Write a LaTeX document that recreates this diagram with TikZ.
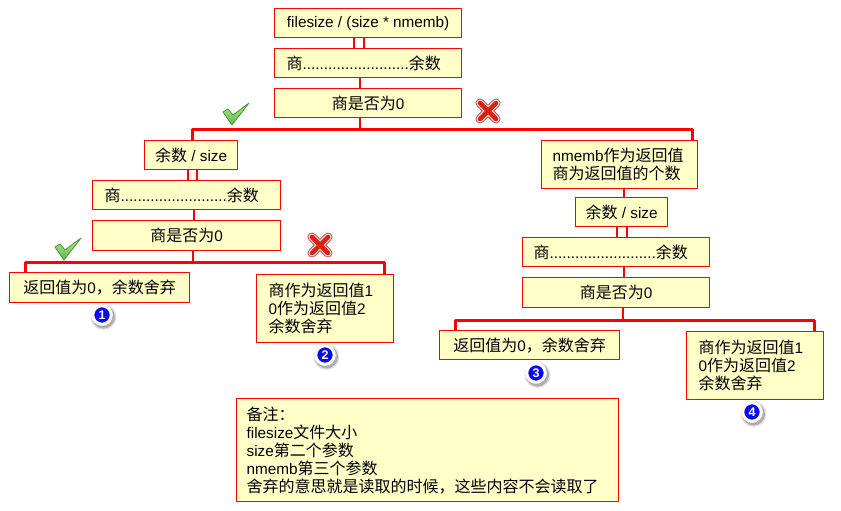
\documentclass[tikz,border=0pt]{standalone}
\usepackage{fontspec}
\setmainfont{Liberation Sans}
\newfontfamily\cjk[Scale=1.046]{Noto Sans CJK SC}
\newcommand{\zh}[1]{{\cjk #1}}
\definecolor{boxfill}{HTML}{FFFFC8}
\definecolor{numblue}{HTML}{0A0AF0}
\definecolor{tickdark}{HTML}{4F9A42}
\definecolor{tickhi}{HTML}{B4EC8C}
\definecolor{ticklo}{HTML}{5DB84A}
\definecolor{crossrim}{HTML}{B85858}
\definecolor{crosshalo}{HTML}{F8E4E4}
\definecolor{crosscore}{HTML}{DD2010}
\tikzset{
  box/.style={draw=red,line width=1.3pt,fill=boxfill,inner sep=0pt,anchor=north west,font=\fontsize{15.3}{18}\selectfont,text=black},
  lbox/.style 2 args={box,align=left,minimum width=#1 pt,text width=#1pt-2*#2pt,inner xsep=#2pt},
  conn/.style={draw=red,line width=2.5pt},
  bus/.style={draw=red,line width=3pt,line join=round},
  numdot/.style={circle,fill=numblue,draw=white,line width=3pt,minimum size=18.5pt,inner sep=0pt,text=white,font=\bfseries\fontsize{12.5}{12.5}\selectfont},
  tick/.pic={
    \fill[top color=tickhi,bottom color=ticklo,draw=tickdark,line width=.8pt,line join=round]
      (-13,-1) -- (-8,-4) -- (-3,2) -- (13,-10) -- (-4,12) -- cycle;
  },
  cross/.pic={
    \draw[draw=crossrim,line width=9pt,line cap=round] (-8,-8) -- (8,8) (-8,8) -- (8,-8);
    \draw[draw=crosshalo,line width=7pt,line cap=round] (-8,-8) -- (8,8) (-8,8) -- (8,-8);
    \draw[draw=crosscore,line width=4.6pt,line cap=round] (-8,-8) -- (8,8) (-8,8) -- (8,-8);
  },
}
\newcommand{\quot}{\zh{商}.........................\zh{余数}}
\begin{document}
\begin{tikzpicture}[x=1pt,y=-1pt]
\useasboundingbox (0,0) rectangle (841,511);
\fill[white] (0,0) rectangle (841,511);

\coordinate (j1) at (360,129);
\coordinate (j2) at (193,262);
\coordinate (j3) at (623,320);

% connectors
\draw[conn] (354,37) -- (354,48);
\draw[conn] (364,37) -- (364,48);
\draw[conn] (360,77) -- (360,88);
\draw[conn] (360,117) -- (j1);
\draw[bus] (192,140) |- (j1) -| (692,140);
\draw[conn] (188,169) -- (188,180);
\draw[conn] (197,169) -- (197,180);
\draw[conn] (194,209) -- (194,220);
\draw[conn] (193,250) -- (j2);
\draw[bus] (25,272) |- (j2) -| (384,274);
\draw[conn] (624,188) -- (624,197);
\draw[conn] (617,226) -- (617,237);
\draw[conn] (627,226) -- (627,237);
\draw[conn] (624,266) -- (624,277);
\draw[conn] (623,307) -- (j3);
\draw[bus] (455,330) |- (j3) -| (814,331);

% boxes
\node[box,minimum width=187pt,minimum height=29pt] (a) at (274,8) {filesize / (size * nmemb)};
\node[lbox={187}{12},minimum height=29pt] (b) at (274,48) {\quot};
\node[box,minimum width=187pt,minimum height=29pt] (c) at (274,88) {\zh{商是否为}0};
\node[box,minimum width=93pt,minimum height=29pt] (d) at (144,140) {\zh{余数} / size};
\node[lbox={188}{12},minimum height=29pt] (e) at (92,180) {\quot};
\node[box,minimum width=188pt,minimum height=30pt] (f) at (92,220) {\zh{商是否为}0};
\node[box,minimum width=180pt,minimum height=30pt] (g) at (9,272) {\zh{返回值为}0\zh{，余数舍弃}};
\node[lbox={137}{12},minimum height=68pt] (h) at (256,274) {\zh{商作为返回值}1\\0\zh{作为返回值}2\\\zh{余数舍弃}};
\node[lbox={156}{11},minimum height=48pt] (i) at (541,140) {nmemb\zh{作为返回值}\\\zh{商为返回值的个数}};
\node[box,minimum width=92pt,minimum height=29pt] (k) at (575,197) {\zh{余数} / size};
\node[lbox={187}{11},minimum height=29pt] (l) at (522,237) {\quot};
\node[box,minimum width=187pt,minimum height=30pt] (m) at (522,277) {\zh{商是否为}0};
\node[box,minimum width=180pt,minimum height=29pt] (n) at (439,330) {\zh{返回值为}0\zh{，余数舍弃}};
\node[lbox={137}{12},minimum height=68pt] (o) at (686,331) {\zh{商作为返回值}1\\0\zh{作为返回值}2\\\zh{余数舍弃}};
\node[lbox={382}{10},minimum height=103pt] (p) at (236,398) {\zh{备注：}\\filesize\zh{文件大小}\\size\zh{第二个参数}\\nmemb\zh{第三个参数}\\\zh{舍弃的意思就是读取的时候，这些内容不会读取了}};

% marks
\pic at (236,113) {tick};
\pic at (68,248) {tick};
\pic at (488,111) {cross};
\pic at (320,245) {cross};

% numbers
\foreach \px/\py in {102/315,325/355,536/373,752/412}{
  \fill[black,opacity=.12] (\px+1.5,\py+2) circle (13pt);
  \fill[black,opacity=.22] (\px+1.5,\py+2) circle (11.5pt);
}
\node[numdot] (n1) at (102,315) {1};
\node[numdot] (n2) at (325,355) {2};
\node[numdot] (n3) at (536,373) {3};
\node[numdot] (n4) at (752,412) {4};
\end{tikzpicture}
\end{document}
